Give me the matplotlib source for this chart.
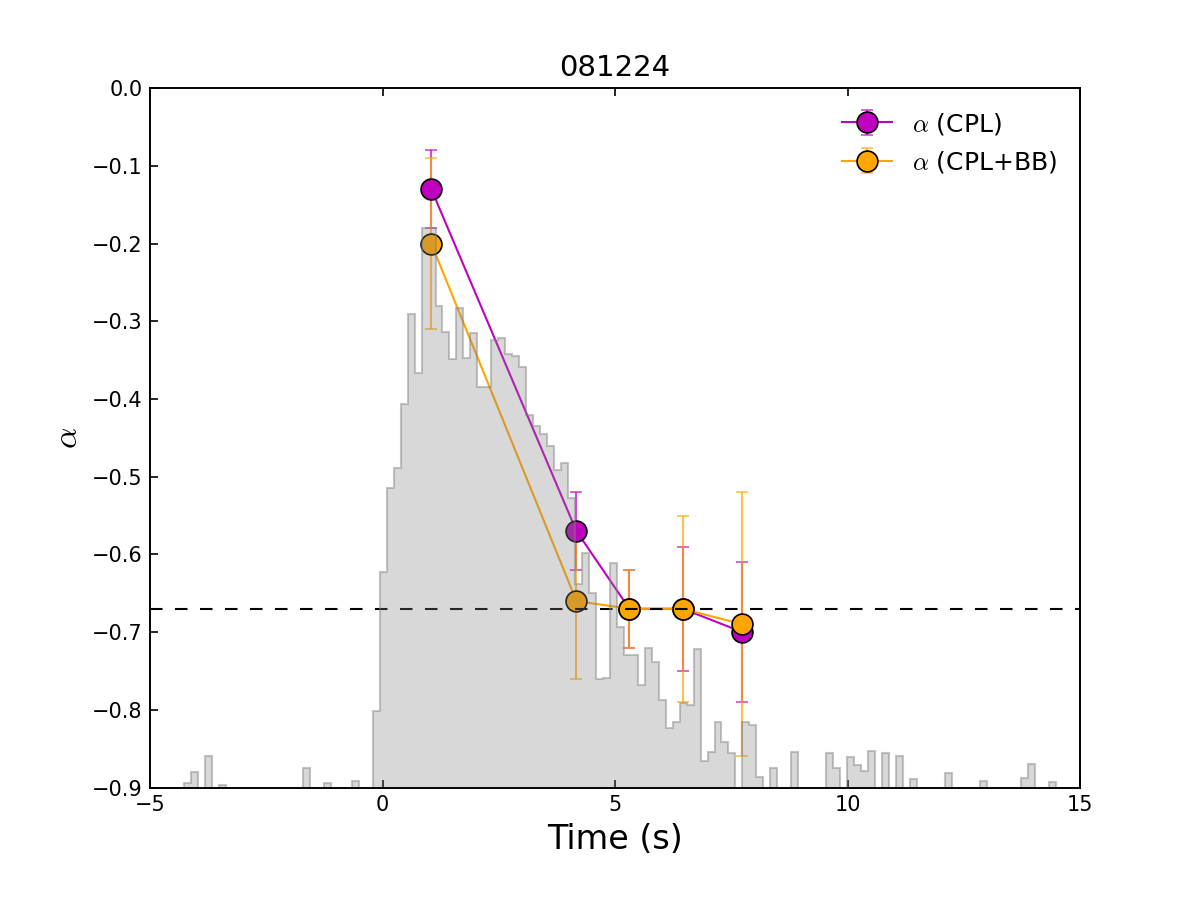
import numpy as np
import matplotlib
matplotlib.use('Agg')
from matplotlib import pyplot as plt
from matplotlib.ticker import MultipleLocator

plt.rcParams['mathtext.fontset'] = 'cm'

# === Données ===
grb_name = '081224'

# indice alpha par intervalle de temps (centre des intervalles, en s)
t_bins = [1.05, 4.17, 5.31, 6.46, 7.74]
alpha_cpl = [-0.13, -0.57, -0.67, -0.67, -0.70]
alpha_cpl_err = [0.05, 0.05, 0.05, 0.08, 0.09]
alpha_cplbb = [-0.20, -0.66, -0.67, -0.67, -0.69]
alpha_cplbb_err = [0.11, 0.10, 0.05, 0.12, 0.17]
alpha_limit = -0.67   # limite synchrotron (-2/3)

# courbe de lumière (unités arbitraires), pas de 0.15 s à partir de -4.26 s
lc_start = -4.26
lc_binsize = 0.15
lc_counts = [
    4, 15, 0, 31, 0, 2, 0, 0, 0, 0, 0, 0, 0, 0, 0, 0, 0,      # -4.26 .. -1.86
    19, 0, 0, 4, 0, 0, 0, 6, 0, 0,                            # -1.71 .. -0.36
    76, 215, 299, 319, 383, 473, 414, 559, 559, 481,          # -0.21 .. 1.14
    455, 428, 479, 429, 454, 400, 400, 447, 449, 433,         # 1.29 .. 2.64
    431, 420, 372, 361, 353, 341, 317, 324, 289, 203,         # 2.79 .. 4.14
    234, 194, 108, 109, 224, 160, 132, 132, 102, 139,         # 4.29 .. 5.64
    125, 87, 59, 65, 84, 82, 138, 26, 35, 65,                 # 5.79 .. 7.14
    45, 34, 0, 65, 62, 10, 0, 19, 0, 0,                       # 7.29 .. 8.64
    35, 0, 0, 0, 0, 34, 19, 0, 30, 22,                        # 8.79 .. 10.14
    16, 36, 0, 34, 0, 31, 0, 8, 0, 0,                         # 10.29 .. 11.64
    0, 0, 14, 0, 0, 0, 0, 6, 0, 0,                            # 11.79 .. 13.14
    0, 0, 0, 9, 23, 0, 0, 5,                                  # 13.29 .. 14.34
]
lc_edges = lc_start + lc_binsize * np.arange(len(lc_counts) + 1)

# === Figure ===
fig, ax = plt.subplots(figsize=(8, 6), dpi=150)
fig.subplots_adjust(left=0.125, right=0.9, bottom=0.125, top=0.902)

ax.errorbar(t_bins, alpha_cpl, yerr=alpha_cpl_err, fmt='o-', color='m',
            ecolor=(0.75, 0, 0.75, 0.7), mfc='m', mec='k', mew=0.8, ms=10,
            lw=1, capsize=3, label=r'$\alpha$ (CPL)')
ax.errorbar(t_bins, alpha_cplbb, yerr=alpha_cplbb_err, fmt='o-', color='orange',
            ecolor=(1.0, 0.647, 0.0, 0.7), mfc='orange', mec='k', mew=0.8, ms=10,
            lw=1, capsize=3, label=r'$\alpha$ (CPL+BB)')
ax.axhline(alpha_limit, color='k', ls='--', lw=1, dashes=(6, 6), zorder=3)

ax.set_xlim(-5, 15)
ax.set_ylim(-0.9, 0.0)
ax.xaxis.set_major_locator(MultipleLocator(5))
ax.yaxis.set_major_locator(MultipleLocator(0.1))
ax.tick_params(direction='in', top=True, right=False, length=4, labelsize=10)
ax.set_xlabel('Time (s)', fontsize=16)
ax.set_ylabel(r'$\alpha$', fontsize=16)
ax.set_title(grb_name, fontsize=14)
ax.legend(loc='upper right', frameon=False, numpoints=1, fontsize=12)

# courbe de lumière par-dessus, sur un axe jumeau
ax2 = ax.twinx()
ax2.stairs(lc_counts, lc_edges, fill=True, color='gray', alpha=0.3, lw=0)
ax2.stairs(lc_counts, lc_edges, color='gray', alpha=0.45, lw=1)
ax2.set_ylim(0, 699)
ax2.set_yticks([])

fig.savefig('out.png', dpi=150)
